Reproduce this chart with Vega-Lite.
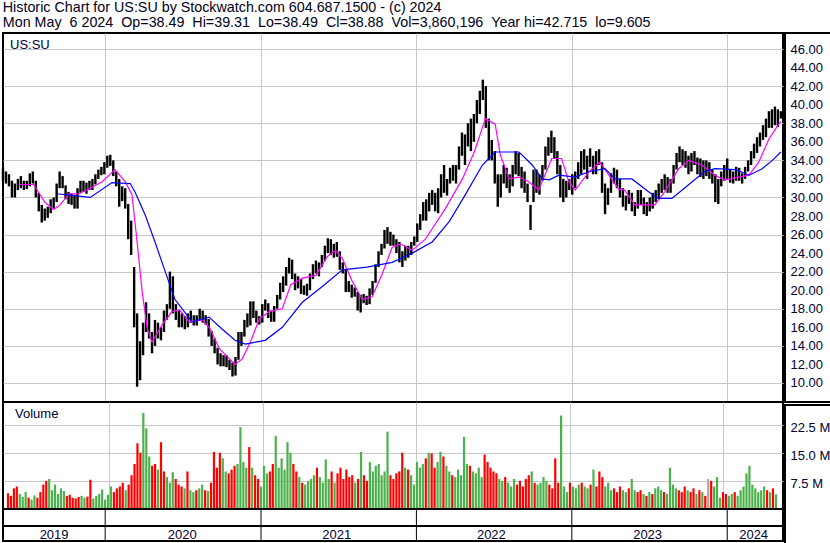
{
"$schema": "https://vega.github.io/schema/vega-lite/v6.json",
"background": "white",
"padding": {"left": 0, "right": 0, "top": 1, "bottom": 0},
"title": {"text": ["Historic Chart for US:SU by Stockwatch.com 604.687.1500 - (c) 2024", "Mon May \u00a06 2024 \u00a0Op=38.49 \u00a0Hi=39.31 \u00a0Lo=38.49 \u00a0Cl=38.88 \u00a0Vol=3,860,196 \u00a0Year hi=42.715 \u00a0lo=9.605"], "anchor": "start", "frame": "bounds", "font": "Liberation Sans", "fontSize": 14.3, "fontWeight": "normal", "color": "#000020", "lineHeight": 14.5, "offset": 2, "dx": 2},
"datasets": {
"px": [
{"d":"2019-05-06","h":33.2,"l":31.8,"c":32.2,"v":4.2,"u":"r"},
{"d":"2019-05-13","h":32.8,"l":31.5,"c":32.0,"v":3.5,"u":"r"},
{"d":"2019-05-20","h":32.5,"l":31.2,"c":31.5,"v":5.5,"u":"r"},
{"d":"2019-05-27","h":31.8,"l":30.0,"c":30.5,"v":6.0,"u":"r"},
{"d":"2019-06-03","h":31.5,"l":30.0,"c":31.2,"v":4.0,"u":"g"},
{"d":"2019-06-10","h":32.0,"l":30.8,"c":31.5,"v":3.2,"u":"g"},
{"d":"2019-06-17","h":32.3,"l":31.0,"c":31.8,"v":4.5,"u":"g"},
{"d":"2019-06-24","h":31.8,"l":30.8,"c":31.2,"v":3.0,"u":"r"},
{"d":"2019-07-01","h":31.8,"l":30.9,"c":31.5,"v":2.5,"u":"g"},
{"d":"2019-07-08","h":32.6,"l":31.2,"c":32.2,"v":3.6,"u":"g"},
{"d":"2019-07-15","h":32.8,"l":31.5,"c":31.8,"v":3.0,"u":"r"},
{"d":"2019-07-22","h":31.8,"l":30.0,"c":30.3,"v":4.5,"u":"r"},
{"d":"2019-07-29","h":30.5,"l":28.5,"c":29.0,"v":6.5,"u":"r"},
{"d":"2019-08-05","h":29.2,"l":27.3,"c":28.0,"v":7.5,"u":"r"},
{"d":"2019-08-12","h":28.8,"l":27.5,"c":28.2,"v":8.0,"u":"g"},
{"d":"2019-08-19","h":29.0,"l":27.8,"c":28.5,"v":5.0,"u":"g"},
{"d":"2019-08-26","h":29.8,"l":28.3,"c":29.5,"v":6.5,"u":"g"},
{"d":"2019-09-02","h":30.0,"l":28.8,"c":29.8,"v":4.0,"u":"g"},
{"d":"2019-09-09","h":31.5,"l":29.5,"c":31.2,"v":5.5,"u":"g"},
{"d":"2019-09-16","h":32.8,"l":31.0,"c":32.0,"v":4.8,"u":"g"},
{"d":"2019-09-23","h":32.3,"l":31.0,"c":31.3,"v":3.5,"u":"r"},
{"d":"2019-09-30","h":31.3,"l":29.8,"c":30.2,"v":3.8,"u":"r"},
{"d":"2019-10-07","h":30.6,"l":29.3,"c":29.8,"v":3.0,"u":"r"},
{"d":"2019-10-14","h":30.4,"l":29.2,"c":29.6,"v":2.8,"u":"r"},
{"d":"2019-10-21","h":30.3,"l":28.8,"c":29.5,"v":3.2,"u":"r"},
{"d":"2019-10-28","h":31.0,"l":28.8,"c":30.6,"v":3.5,"u":"g"},
{"d":"2019-11-04","h":31.8,"l":30.5,"c":31.4,"v":3.0,"u":"g"},
{"d":"2019-11-11","h":31.8,"l":30.6,"c":31.0,"v":3.3,"u":"r"},
{"d":"2019-11-18","h":31.6,"l":30.4,"c":30.9,"v":7.8,"u":"r"},
{"d":"2019-11-25","h":31.8,"l":30.8,"c":31.5,"v":2.8,"u":"g"},
{"d":"2019-12-02","h":32.0,"l":30.8,"c":31.8,"v":3.5,"u":"g"},
{"d":"2019-12-09","h":32.5,"l":31.4,"c":32.2,"v":4.0,"u":"g"},
{"d":"2019-12-16","h":33.0,"l":32.0,"c":32.8,"v":5.2,"u":"g"},
{"d":"2019-12-23","h":33.3,"l":32.4,"c":33.0,"v":2.5,"u":"g"},
{"d":"2019-12-30","h":33.8,"l":32.5,"c":33.5,"v":3.8,"u":"g"},
{"d":"2020-01-06","h":34.5,"l":33.2,"c":34.0,"v":6.0,"u":"g"},
{"d":"2020-01-13","h":34.6,"l":33.4,"c":33.8,"v":4.5,"u":"r"},
{"d":"2020-01-20","h":34.0,"l":32.3,"c":32.6,"v":5.5,"u":"r"},
{"d":"2020-01-27","h":32.8,"l":31.2,"c":31.6,"v":6.0,"u":"r"},
{"d":"2020-02-03","h":32.0,"l":29.0,"c":29.8,"v":7.0,"u":"r"},
{"d":"2020-02-10","h":31.2,"l":29.6,"c":30.5,"v":5.0,"u":"g"},
{"d":"2020-02-17","h":31.0,"l":28.8,"c":29.2,"v":6.5,"u":"r"},
{"d":"2020-02-24","h":29.3,"l":25.5,"c":26.0,"v":9.0,"u":"r"},
{"d":"2020-03-02","h":27.5,"l":23.8,"c":24.2,"v":12.0,"u":"r"},
{"d":"2020-03-09","h":22.5,"l":16.0,"c":17.5,"v":17.5,"u":"r"},
{"d":"2020-03-16","h":17.5,"l":9.6,"c":11.5,"v":15.0,"u":"r"},
{"d":"2020-03-23","h":14.5,"l":10.3,"c":13.0,"v":25.6,"u":"g"},
{"d":"2020-03-30","h":16.5,"l":13.0,"c":15.8,"v":21.5,"u":"g"},
{"d":"2020-04-06","h":18.7,"l":15.5,"c":17.2,"v":14.0,"u":"g"},
{"d":"2020-04-13","h":17.5,"l":14.8,"c":15.2,"v":11.5,"u":"r"},
{"d":"2020-04-20","h":15.5,"l":13.2,"c":14.0,"v":12.0,"u":"r"},
{"d":"2020-04-27","h":16.8,"l":14.0,"c":16.3,"v":10.5,"u":"g"},
{"d":"2020-05-04","h":16.5,"l":14.8,"c":15.2,"v":17.8,"u":"r"},
{"d":"2020-05-11","h":16.0,"l":14.6,"c":15.0,"v":10.0,"u":"r"},
{"d":"2020-05-18","h":17.8,"l":15.5,"c":17.2,"v":8.5,"u":"g"},
{"d":"2020-05-25","h":18.5,"l":16.8,"c":18.0,"v":7.0,"u":"g"},
{"d":"2020-06-01","h":22.0,"l":18.0,"c":21.0,"v":9.8,"u":"g"},
{"d":"2020-06-08","h":21.5,"l":17.5,"c":18.0,"v":8.0,"u":"r"},
{"d":"2020-06-15","h":18.5,"l":16.8,"c":17.5,"v":6.5,"u":"r"},
{"d":"2020-06-22","h":17.8,"l":16.0,"c":16.3,"v":6.0,"u":"r"},
{"d":"2020-06-29","h":17.5,"l":16.0,"c":17.0,"v":5.5,"u":"g"},
{"d":"2020-07-06","h":17.2,"l":15.8,"c":16.2,"v":10.0,"u":"r"},
{"d":"2020-07-13","h":17.5,"l":16.0,"c":17.0,"v":5.0,"u":"g"},
{"d":"2020-07-20","h":17.8,"l":16.5,"c":17.2,"v":4.5,"u":"g"},
{"d":"2020-07-27","h":17.3,"l":16.2,"c":16.6,"v":5.0,"u":"r"},
{"d":"2020-08-03","h":17.3,"l":16.2,"c":17.0,"v":5.5,"u":"g"},
{"d":"2020-08-10","h":18.0,"l":16.8,"c":17.6,"v":6.5,"u":"g"},
{"d":"2020-08-17","h":17.8,"l":16.5,"c":16.8,"v":5.0,"u":"r"},
{"d":"2020-08-24","h":17.3,"l":16.3,"c":17.0,"v":4.8,"u":"g"},
{"d":"2020-08-31","h":16.9,"l":15.0,"c":15.4,"v":7.0,"u":"r"},
{"d":"2020-09-07","h":15.6,"l":14.0,"c":14.3,"v":15.2,"u":"r"},
{"d":"2020-09-14","h":14.8,"l":13.2,"c":13.6,"v":11.0,"u":"r"},
{"d":"2020-09-21","h":13.8,"l":12.0,"c":12.3,"v":15.0,"u":"r"},
{"d":"2020-09-28","h":13.2,"l":11.8,"c":12.5,"v":13.5,"u":"g"},
{"d":"2020-10-05","h":13.0,"l":11.8,"c":12.7,"v":10.0,"u":"g"},
{"d":"2020-10-12","h":13.0,"l":11.7,"c":11.9,"v":9.5,"u":"r"},
{"d":"2020-10-19","h":12.5,"l":11.4,"c":11.8,"v":10.5,"u":"r"},
{"d":"2020-10-26","h":12.2,"l":10.7,"c":11.0,"v":11.5,"u":"r"},
{"d":"2020-11-02","h":12.8,"l":10.8,"c":12.5,"v":12.0,"u":"g"},
{"d":"2020-11-09","h":15.5,"l":12.5,"c":14.8,"v":21.8,"u":"g"},
{"d":"2020-11-16","h":15.5,"l":14.0,"c":15.0,"v":12.5,"u":"g"},
{"d":"2020-11-23","h":16.8,"l":15.0,"c":16.5,"v":11.0,"u":"g"},
{"d":"2020-11-30","h":17.5,"l":16.0,"c":16.2,"v":16.5,"u":"r"},
{"d":"2020-12-07","h":18.8,"l":16.2,"c":18.4,"v":11.0,"u":"g"},
{"d":"2020-12-14","h":18.8,"l":17.0,"c":17.5,"v":9.0,"u":"r"},
{"d":"2020-12-21","h":17.8,"l":16.5,"c":16.8,"v":8.0,"u":"r"},
{"d":"2020-12-28","h":17.2,"l":16.3,"c":16.9,"v":6.0,"u":"g"},
{"d":"2021-01-04","h":18.5,"l":16.5,"c":18.0,"v":11.5,"u":"g"},
{"d":"2021-01-11","h":19.0,"l":17.8,"c":18.3,"v":9.5,"u":"g"},
{"d":"2021-01-18","h":18.6,"l":17.0,"c":17.3,"v":10.0,"u":"r"},
{"d":"2021-01-25","h":17.8,"l":16.6,"c":17.0,"v":12.0,"u":"r"},
{"d":"2021-02-01","h":18.3,"l":16.6,"c":18.0,"v":19.5,"u":"g"},
{"d":"2021-02-08","h":19.5,"l":18.0,"c":19.2,"v":11.0,"u":"g"},
{"d":"2021-02-15","h":20.8,"l":19.0,"c":20.5,"v":13.5,"u":"g"},
{"d":"2021-02-22","h":21.5,"l":19.8,"c":21.0,"v":10.5,"u":"g"},
{"d":"2021-03-01","h":22.5,"l":20.5,"c":22.0,"v":17.8,"u":"g"},
{"d":"2021-03-08","h":23.5,"l":21.8,"c":22.8,"v":15.0,"u":"g"},
{"d":"2021-03-15","h":23.3,"l":21.2,"c":21.5,"v":12.0,"u":"r"},
{"d":"2021-03-22","h":21.8,"l":20.0,"c":20.6,"v":10.0,"u":"r"},
{"d":"2021-03-29","h":21.5,"l":20.2,"c":21.0,"v":8.5,"u":"g"},
{"d":"2021-04-05","h":21.2,"l":19.6,"c":20.0,"v":7.0,"u":"r"},
{"d":"2021-04-12","h":20.5,"l":19.5,"c":20.2,"v":6.5,"u":"g"},
{"d":"2021-04-19","h":20.7,"l":19.4,"c":20.3,"v":7.5,"u":"g"},
{"d":"2021-04-26","h":21.8,"l":20.0,"c":21.5,"v":8.0,"u":"g"},
{"d":"2021-05-03","h":22.8,"l":21.2,"c":22.5,"v":9.0,"u":"g"},
{"d":"2021-05-10","h":23.2,"l":21.8,"c":22.4,"v":11.0,"u":"r"},
{"d":"2021-05-17","h":23.0,"l":21.5,"c":22.8,"v":8.5,"u":"g"},
{"d":"2021-05-24","h":23.8,"l":22.5,"c":23.5,"v":7.0,"u":"g"},
{"d":"2021-05-31","h":24.8,"l":23.2,"c":24.5,"v":13.2,"u":"g"},
{"d":"2021-06-07","h":25.6,"l":24.0,"c":24.8,"v":8.0,"u":"g"},
{"d":"2021-06-14","h":25.5,"l":23.8,"c":24.2,"v":10.0,"u":"r"},
{"d":"2021-06-21","h":25.0,"l":23.5,"c":24.5,"v":7.0,"u":"g"},
{"d":"2021-06-28","h":25.2,"l":23.6,"c":24.0,"v":9.5,"u":"r"},
{"d":"2021-07-05","h":24.2,"l":22.2,"c":22.5,"v":11.0,"u":"r"},
{"d":"2021-07-12","h":23.0,"l":21.8,"c":22.2,"v":8.0,"u":"r"},
{"d":"2021-07-19","h":22.3,"l":19.8,"c":20.8,"v":10.5,"u":"r"},
{"d":"2021-07-26","h":21.0,"l":19.8,"c":20.5,"v":8.5,"u":"r"},
{"d":"2021-08-02","h":20.6,"l":19.2,"c":19.5,"v":9.0,"u":"r"},
{"d":"2021-08-09","h":20.3,"l":19.3,"c":19.8,"v":7.0,"u":"g"},
{"d":"2021-08-16","h":19.8,"l":17.8,"c":18.5,"v":8.0,"u":"r"},
{"d":"2021-08-23","h":19.5,"l":17.6,"c":19.2,"v":15.2,"u":"g"},
{"d":"2021-08-30","h":19.6,"l":18.6,"c":19.0,"v":9.0,"u":"r"},
{"d":"2021-09-06","h":19.4,"l":18.4,"c":18.7,"v":7.5,"u":"r"},
{"d":"2021-09-13","h":20.2,"l":18.5,"c":20.0,"v":12.5,"u":"g"},
{"d":"2021-09-20","h":21.0,"l":19.5,"c":20.8,"v":10.0,"u":"g"},
{"d":"2021-09-27","h":22.8,"l":20.8,"c":22.5,"v":11.5,"u":"g"},
{"d":"2021-10-04","h":24.2,"l":22.5,"c":24.0,"v":12.0,"u":"g"},
{"d":"2021-10-11","h":25.0,"l":23.8,"c":24.6,"v":9.0,"u":"g"},
{"d":"2021-10-18","h":26.5,"l":24.5,"c":26.0,"v":10.0,"u":"g"},
{"d":"2021-10-25","h":26.8,"l":25.0,"c":26.2,"v":20.6,"u":"g"},
{"d":"2021-11-01","h":26.3,"l":24.8,"c":25.5,"v":9.0,"u":"r"},
{"d":"2021-11-08","h":26.0,"l":24.8,"c":25.2,"v":8.0,"u":"r"},
{"d":"2021-11-15","h":25.5,"l":24.0,"c":24.3,"v":9.5,"u":"r"},
{"d":"2021-11-22","h":25.2,"l":23.0,"c":23.4,"v":10.0,"u":"r"},
{"d":"2021-11-29","h":24.2,"l":22.5,"c":23.2,"v":15.0,"u":"r"},
{"d":"2021-12-06","h":24.8,"l":23.2,"c":24.5,"v":11.0,"u":"g"},
{"d":"2021-12-13","h":24.8,"l":23.5,"c":24.0,"v":10.5,"u":"r"},
{"d":"2021-12-20","h":25.2,"l":23.8,"c":24.8,"v":9.0,"u":"g"},
{"d":"2021-12-27","h":25.8,"l":24.8,"c":25.3,"v":6.5,"u":"g"},
{"d":"2022-01-03","h":27.2,"l":25.2,"c":26.8,"v":12.5,"u":"g"},
{"d":"2022-01-10","h":28.2,"l":26.5,"c":27.8,"v":11.0,"u":"g"},
{"d":"2022-01-17","h":29.5,"l":27.5,"c":29.0,"v":12.0,"u":"g"},
{"d":"2022-01-24","h":29.8,"l":27.5,"c":28.6,"v":13.5,"u":"r"},
{"d":"2022-01-31","h":30.5,"l":28.5,"c":30.0,"v":15.0,"u":"g"},
{"d":"2022-02-07","h":30.8,"l":29.2,"c":29.6,"v":14.8,"u":"r"},
{"d":"2022-02-14","h":30.5,"l":28.5,"c":29.0,"v":11.0,"u":"r"},
{"d":"2022-02-21","h":31.0,"l":28.3,"c":30.5,"v":12.5,"u":"g"},
{"d":"2022-02-28","h":32.5,"l":30.0,"c":31.5,"v":15.2,"u":"g"},
{"d":"2022-03-07","h":33.5,"l":30.5,"c":31.0,"v":14.0,"u":"r"},
{"d":"2022-03-14","h":32.0,"l":30.2,"c":31.5,"v":11.5,"u":"g"},
{"d":"2022-03-21","h":33.2,"l":31.5,"c":33.0,"v":10.0,"u":"g"},
{"d":"2022-03-28","h":33.5,"l":31.8,"c":32.5,"v":9.0,"u":"r"},
{"d":"2022-04-04","h":33.5,"l":31.5,"c":33.2,"v":8.5,"u":"g"},
{"d":"2022-04-11","h":35.5,"l":33.0,"c":35.2,"v":10.5,"u":"g"},
{"d":"2022-04-18","h":37.0,"l":34.5,"c":35.5,"v":9.0,"u":"g"},
{"d":"2022-04-25","h":36.8,"l":33.5,"c":36.0,"v":19.2,"u":"g"},
{"d":"2022-05-02","h":38.0,"l":35.5,"c":37.5,"v":12.0,"u":"g"},
{"d":"2022-05-09","h":38.5,"l":35.0,"c":36.2,"v":11.5,"u":"r"},
{"d":"2022-05-16","h":39.0,"l":36.0,"c":38.5,"v":10.0,"u":"g"},
{"d":"2022-05-23","h":40.5,"l":38.0,"c":40.0,"v":9.5,"u":"g"},
{"d":"2022-05-30","h":41.5,"l":39.0,"c":41.0,"v":11.0,"u":"g"},
{"d":"2022-06-06","h":42.7,"l":40.5,"c":41.5,"v":8.5,"u":"g"},
{"d":"2022-06-13","h":42.0,"l":37.5,"c":38.0,"v":14.5,"u":"r"},
{"d":"2022-06-20","h":38.5,"l":34.0,"c":35.0,"v":12.5,"u":"r"},
{"d":"2022-06-27","h":36.2,"l":34.0,"c":34.8,"v":11.0,"u":"r"},
{"d":"2022-07-04","h":35.0,"l":31.5,"c":32.0,"v":10.0,"u":"r"},
{"d":"2022-07-11","h":32.5,"l":29.0,"c":30.0,"v":9.5,"u":"r"},
{"d":"2022-07-18","h":32.5,"l":30.0,"c":32.0,"v":8.0,"u":"g"},
{"d":"2022-07-25","h":33.5,"l":31.5,"c":33.0,"v":7.5,"u":"g"},
{"d":"2022-08-01","h":33.2,"l":31.0,"c":31.5,"v":8.5,"u":"r"},
{"d":"2022-08-08","h":32.5,"l":30.5,"c":31.8,"v":7.0,"u":"g"},
{"d":"2022-08-15","h":33.5,"l":31.2,"c":32.8,"v":6.0,"u":"g"},
{"d":"2022-08-22","h":35.0,"l":32.5,"c":34.5,"v":8.0,"u":"g"},
{"d":"2022-08-29","h":34.8,"l":32.3,"c":32.8,"v":6.5,"u":"r"},
{"d":"2022-09-05","h":33.3,"l":31.0,"c":31.5,"v":7.5,"u":"r"},
{"d":"2022-09-12","h":32.8,"l":30.5,"c":30.8,"v":6.0,"u":"r"},
{"d":"2022-09-19","h":31.5,"l":29.5,"c":29.8,"v":8.0,"u":"r"},
{"d":"2022-09-26","h":29.2,"l":26.5,"c":28.5,"v":9.0,"u":"r"},
{"d":"2022-10-03","h":33.0,"l":29.5,"c":32.6,"v":10.0,"u":"g"},
{"d":"2022-10-10","h":33.0,"l":30.5,"c":31.0,"v":7.0,"u":"r"},
{"d":"2022-10-17","h":32.5,"l":30.3,"c":32.0,"v":6.5,"u":"g"},
{"d":"2022-10-24","h":33.5,"l":31.8,"c":33.2,"v":7.0,"u":"g"},
{"d":"2022-10-31","h":35.5,"l":33.0,"c":35.0,"v":8.5,"u":"g"},
{"d":"2022-11-07","h":36.5,"l":34.5,"c":35.8,"v":7.5,"u":"g"},
{"d":"2022-11-14","h":37.2,"l":34.8,"c":35.5,"v":6.5,"u":"r"},
{"d":"2022-11-21","h":36.5,"l":34.2,"c":34.5,"v":5.5,"u":"r"},
{"d":"2022-11-28","h":35.0,"l":32.5,"c":33.0,"v":13.5,"u":"r"},
{"d":"2022-12-05","h":33.5,"l":30.0,"c":30.5,"v":7.0,"u":"r"},
{"d":"2022-12-12","h":32.0,"l":29.5,"c":31.0,"v":24.9,"u":"g"},
{"d":"2022-12-19","h":31.8,"l":30.0,"c":31.2,"v":6.0,"u":"g"},
{"d":"2022-12-26","h":32.0,"l":30.8,"c":31.6,"v":4.5,"u":"g"},
{"d":"2023-01-02","h":32.5,"l":30.3,"c":31.0,"v":7.0,"u":"r"},
{"d":"2023-01-09","h":32.8,"l":31.0,"c":32.5,"v":6.0,"u":"g"},
{"d":"2023-01-16","h":33.8,"l":32.0,"c":33.0,"v":5.5,"u":"g"},
{"d":"2023-01-23","h":35.0,"l":32.5,"c":34.6,"v":6.5,"u":"g"},
{"d":"2023-01-30","h":35.2,"l":33.0,"c":33.5,"v":7.0,"u":"r"},
{"d":"2023-02-06","h":34.5,"l":32.0,"c":34.0,"v":6.0,"u":"g"},
{"d":"2023-02-13","h":35.3,"l":33.3,"c":34.5,"v":5.5,"u":"g"},
{"d":"2023-02-20","h":34.5,"l":32.5,"c":33.0,"v":6.5,"u":"r"},
{"d":"2023-02-27","h":35.0,"l":32.5,"c":34.5,"v":10.5,"u":"g"},
{"d":"2023-03-06","h":35.2,"l":33.5,"c":33.8,"v":6.0,"u":"r"},
{"d":"2023-03-13","h":33.8,"l":30.5,"c":31.0,"v":10.0,"u":"r"},
{"d":"2023-03-20","h":31.5,"l":28.2,"c":29.5,"v":8.5,"u":"r"},
{"d":"2023-03-27","h":31.0,"l":29.2,"c":30.8,"v":6.0,"u":"g"},
{"d":"2023-04-03","h":32.6,"l":30.5,"c":32.0,"v":7.0,"u":"g"},
{"d":"2023-04-10","h":33.2,"l":31.5,"c":32.8,"v":5.0,"u":"g"},
{"d":"2023-04-17","h":33.0,"l":31.0,"c":31.5,"v":5.5,"u":"r"},
{"d":"2023-04-24","h":32.0,"l":30.0,"c":30.6,"v":4.5,"u":"r"},
{"d":"2023-05-01","h":31.0,"l":29.0,"c":29.5,"v":6.0,"u":"r"},
{"d":"2023-05-08","h":30.2,"l":28.6,"c":29.8,"v":5.0,"u":"g"},
{"d":"2023-05-15","h":30.8,"l":29.3,"c":30.0,"v":4.5,"u":"g"},
{"d":"2023-05-22","h":30.5,"l":28.5,"c":28.8,"v":5.5,"u":"r"},
{"d":"2023-05-29","h":29.5,"l":28.0,"c":29.2,"v":8.0,"u":"g"},
{"d":"2023-06-05","h":30.8,"l":28.8,"c":30.2,"v":5.0,"u":"g"},
{"d":"2023-06-12","h":30.8,"l":29.2,"c":29.6,"v":4.5,"u":"r"},
{"d":"2023-06-19","h":30.0,"l":28.2,"c":28.5,"v":5.0,"u":"r"},
{"d":"2023-06-26","h":29.5,"l":28.0,"c":29.3,"v":4.0,"u":"g"},
{"d":"2023-07-03","h":30.0,"l":28.5,"c":29.2,"v":3.5,"u":"r"},
{"d":"2023-07-10","h":30.5,"l":28.8,"c":30.2,"v":4.5,"u":"g"},
{"d":"2023-07-17","h":30.8,"l":29.5,"c":30.0,"v":4.0,"u":"r"},
{"d":"2023-07-24","h":31.5,"l":29.8,"c":31.2,"v":5.5,"u":"g"},
{"d":"2023-07-31","h":32.0,"l":30.5,"c":31.5,"v":6.0,"u":"g"},
{"d":"2023-08-07","h":32.5,"l":30.8,"c":32.0,"v":5.0,"u":"g"},
{"d":"2023-08-14","h":32.2,"l":30.5,"c":31.0,"v":4.5,"u":"r"},
{"d":"2023-08-21","h":32.0,"l":30.5,"c":31.8,"v":4.0,"u":"g"},
{"d":"2023-08-28","h":33.5,"l":31.5,"c":33.2,"v":11.0,"u":"g"},
{"d":"2023-09-04","h":34.8,"l":33.0,"c":34.5,"v":6.5,"u":"g"},
{"d":"2023-09-11","h":35.5,"l":33.8,"c":34.8,"v":5.5,"u":"g"},
{"d":"2023-09-18","h":35.2,"l":33.5,"c":34.2,"v":5.0,"u":"r"},
{"d":"2023-09-25","h":35.0,"l":33.2,"c":34.0,"v":4.5,"u":"r"},
{"d":"2023-10-02","h":34.5,"l":32.5,"c":33.0,"v":6.0,"u":"r"},
{"d":"2023-10-09","h":34.8,"l":32.8,"c":34.2,"v":5.0,"u":"g"},
{"d":"2023-10-16","h":35.0,"l":33.5,"c":34.0,"v":4.5,"u":"r"},
{"d":"2023-10-23","h":34.3,"l":32.5,"c":33.0,"v":5.5,"u":"r"},
{"d":"2023-10-30","h":34.2,"l":32.2,"c":33.8,"v":4.0,"u":"g"},
{"d":"2023-11-06","h":34.0,"l":32.0,"c":32.5,"v":5.0,"u":"r"},
{"d":"2023-11-13","h":34.0,"l":32.3,"c":33.5,"v":4.5,"u":"g"},
{"d":"2023-11-20","h":33.8,"l":32.0,"c":32.4,"v":3.5,"u":"r"},
{"d":"2023-11-27","h":33.0,"l":31.5,"c":32.0,"v":8.0,"u":"n"},
{"d":"2023-12-04","h":32.5,"l":29.5,"c":30.5,"v":7.5,"u":"r"},
{"d":"2023-12-11","h":32.0,"l":29.3,"c":31.8,"v":6.0,"u":"g"},
{"d":"2023-12-18","h":32.8,"l":31.2,"c":32.3,"v":8.5,"u":"g"},
{"d":"2023-12-25","h":33.5,"l":31.8,"c":32.8,"v":3.0,"u":"g"},
{"d":"2024-01-01","h":34.2,"l":32.0,"c":32.5,"v":4.5,"u":"r"},
{"d":"2024-01-08","h":33.0,"l":31.6,"c":32.0,"v":4.0,"u":"r"},
{"d":"2024-01-15","h":32.8,"l":31.5,"c":32.2,"v":3.5,"u":"g"},
{"d":"2024-01-22","h":33.3,"l":31.8,"c":32.4,"v":4.0,"u":"g"},
{"d":"2024-01-29","h":33.2,"l":31.8,"c":32.0,"v":4.5,"u":"r"},
{"d":"2024-02-05","h":32.6,"l":31.5,"c":32.3,"v":3.5,"u":"g"},
{"d":"2024-02-12","h":33.3,"l":32.0,"c":33.0,"v":5.0,"u":"g"},
{"d":"2024-02-19","h":34.0,"l":32.8,"c":33.8,"v":6.0,"u":"g"},
{"d":"2024-02-26","h":35.0,"l":33.5,"c":34.5,"v":9.5,"u":"g"},
{"d":"2024-03-04","h":35.8,"l":34.2,"c":35.5,"v":11.5,"u":"g"},
{"d":"2024-03-11","h":36.5,"l":34.8,"c":36.0,"v":6.5,"u":"g"},
{"d":"2024-03-18","h":37.0,"l":35.5,"c":36.8,"v":5.5,"u":"g"},
{"d":"2024-03-25","h":37.8,"l":36.2,"c":37.2,"v":4.5,"u":"g"},
{"d":"2024-04-01","h":38.5,"l":36.5,"c":38.2,"v":5.0,"u":"g"},
{"d":"2024-04-08","h":39.3,"l":37.5,"c":38.5,"v":6.0,"u":"g"},
{"d":"2024-04-15","h":39.5,"l":37.5,"c":38.0,"v":5.0,"u":"r"},
{"d":"2024-04-22","h":39.8,"l":37.8,"c":39.2,"v":4.5,"u":"g"},
{"d":"2024-04-29","h":39.5,"l":37.6,"c":38.3,"v":5.5,"u":"r"},
{"d":"2024-05-06","h":39.3,"l":38.5,"c":38.9,"v":3.9,"u":"g"}
],
"fast": [
{"d":"2019-06-14","v":31.4},{"d":"2019-07-17","v":31.4},{"d":"2019-08-12","v":29.5},{"d":"2019-09-02","v":28.7},{"d":"2019-09-17","v":29.2},{"d":"2019-10-08","v":30.4},{"d":"2019-11-01","v":30.4},{"d":"2019-12-01","v":31.1},{"d":"2019-12-25","v":31.7},{"d":"2020-01-24","v":33.0},{"d":"2020-02-17","v":31.7},{"d":"2020-03-04","v":30.3},{"d":"2020-03-16","v":25.2},{"d":"2020-03-28","v":19.8},{"d":"2020-04-09","v":15.8},{"d":"2020-04-20","v":14.4},{"d":"2020-05-14","v":16.3},{"d":"2020-06-06","v":17.7},{"d":"2020-06-23","v":17.9},{"d":"2020-07-16","v":16.6},{"d":"2020-08-16","v":16.8},{"d":"2020-09-04","v":15.8},{"d":"2020-09-25","v":13.7},{"d":"2020-11-01","v":12.0},{"d":"2020-11-18","v":12.6},{"d":"2020-12-07","v":14.4},{"d":"2020-12-28","v":16.9},{"d":"2021-01-20","v":17.7},{"d":"2021-02-20","v":18.0},{"d":"2021-03-12","v":20.6},{"d":"2021-04-08","v":21.3},{"d":"2021-05-10","v":21.6},{"d":"2021-06-05","v":23.6},{"d":"2021-06-25","v":24.3},{"d":"2021-07-11","v":23.4},{"d":"2021-08-03","v":21.0},{"d":"2021-08-27","v":19.0},{"d":"2021-09-19","v":19.3},{"d":"2021-10-13","v":21.8},{"d":"2021-11-05","v":24.6},{"d":"2021-11-25","v":25.0},{"d":"2021-12-22","v":24.3},{"d":"2022-01-22","v":25.5},{"d":"2022-03-10","v":28.8},{"d":"2022-04-19","v":32.0},{"d":"2022-05-17","v":34.9},{"d":"2022-06-12","v":38.5},{"d":"2022-07-05","v":37.9},{"d":"2022-07-17","v":34.6},{"d":"2022-08-07","v":32.0},{"d":"2022-08-30","v":32.2},{"d":"2022-09-22","v":31.7},{"d":"2022-10-15","v":30.8},{"d":"2022-11-15","v":34.2},{"d":"2022-12-08","v":34.2},{"d":"2022-12-25","v":31.7},{"d":"2023-01-09","v":30.8},{"d":"2023-02-11","v":32.8},{"d":"2023-03-08","v":33.8},{"d":"2023-03-29","v":32.4},{"d":"2023-04-21","v":30.9},{"d":"2023-05-05","v":30.8},{"d":"2023-05-29","v":29.2},{"d":"2023-07-15","v":29.2},{"d":"2023-08-07","v":30.6},{"d":"2023-09-09","v":33.1},{"d":"2023-10-03","v":34.0},{"d":"2023-11-02","v":33.5},{"d":"2023-12-03","v":32.4},{"d":"2023-12-26","v":31.9},{"d":"2024-01-28","v":32.2},{"d":"2024-02-21","v":32.4},{"d":"2024-03-15","v":33.8},{"d":"2024-04-08","v":36.3},{"d":"2024-05-01","v":37.9},{"d":"2024-05-06","v":38.2}
],
"slow": [
{"d":"2019-09-10","v":30.4},{"d":"2019-11-27","v":30.0},{"d":"2020-01-17","v":31.6},{"d":"2020-02-29","v":31.5},{"d":"2020-03-11","v":30.6},{"d":"2020-04-04","v":28.1},{"d":"2020-04-27","v":25.2},{"d":"2020-05-21","v":22.0},{"d":"2020-06-13","v":19.0},{"d":"2020-06-30","v":18.0},{"d":"2020-07-23","v":16.6},{"d":"2020-09-01","v":17.1},{"d":"2020-10-02","v":15.8},{"d":"2020-11-01","v":14.6},{"d":"2020-11-25","v":14.2},{"d":"2021-01-11","v":14.6},{"d":"2021-02-20","v":16.0},{"d":"2021-04-08","v":18.7},{"d":"2021-05-25","v":20.4},{"d":"2021-07-11","v":22.2},{"d":"2021-09-07","v":22.5},{"d":"2021-11-05","v":23.0},{"d":"2021-12-22","v":24.0},{"d":"2022-02-07","v":25.2},{"d":"2022-03-19","v":27.4},{"d":"2022-04-26","v":30.3},{"d":"2022-06-05","v":33.5},{"d":"2022-07-05","v":34.9},{"d":"2022-08-30","v":34.9},{"d":"2022-09-30","v":33.5},{"d":"2022-10-23","v":32.0},{"d":"2022-11-09","v":31.9},{"d":"2022-12-02","v":32.4},{"d":"2023-01-09","v":32.2},{"d":"2023-02-11","v":32.8},{"d":"2023-03-20","v":33.1},{"d":"2023-04-13","v":32.0},{"d":"2023-05-22","v":32.0},{"d":"2023-07-01","v":30.6},{"d":"2023-07-24","v":29.9},{"d":"2023-08-24","v":29.9},{"d":"2023-10-03","v":31.4},{"d":"2023-11-09","v":32.8},{"d":"2023-12-03","v":33.1},{"d":"2024-01-20","v":33.0},{"d":"2024-02-22","v":32.4},{"d":"2024-03-23","v":33.1},{"d":"2024-04-16","v":34.0},{"d":"2024-05-06","v":34.9}
],
"yb": [{"d":"2020-01-01"},{"d":"2021-01-01"},{"d":"2022-01-01"},{"d":"2023-01-01"},{"d":"2024-01-01"}],
"yl": [{"d":"2019-09-03","t":"2019"},{"d":"2020-06-30","t":"2020"},{"d":"2021-06-28","t":"2021"},{"d":"2022-06-26","t":"2022"},{"d":"2023-06-28","t":"2023"},{"d":"2024-03-03","t":"2024"}]
},
"hconcat": [
{
"vconcat": [
{
"width": 780, "height": 369,
"layer": [
{"data": {"name": "px"}, "mark": {"type": "rule", "color": "black", "strokeWidth": 2.4},
"encoding": {
"x": {"field": "d", "type": "temporal", "scale": {"type": "utc", "domain": [1557100800000, 1715385600000]}, "axis": {"title": null, "grid": true, "labels": false, "ticks": false, "domain": false, "values": [1577836800000, 1609459200000, 1640995200000, 1672531200000, 1704067200000]}},
"y": {"field": "l", "type": "quantitative", "scale": {"domain": [7.95, 47.73], "nice": false, "zero": false}, "axis": {"title": null, "values": [10,12,14,16,18,20,22,24,26,28,30,32,34,36,38,40,42,44,46], "labels": false, "ticks": false, "domain": false, "grid": true}},
"y2": {"field": "h"}
}},
{"data": {"name": "fast"}, "mark": {"type": "line", "color": "#ff00ff", "strokeWidth": 1.2},
"encoding": {"x": {"field": "d", "type": "temporal", "axis": {"title": null}}, "y": {"field": "v", "type": "quantitative", "axis": {"title": null}}}},
{"data": {"name": "slow"}, "mark": {"type": "line", "color": "#0000ff", "strokeWidth": 1.2},
"encoding": {"x": {"field": "d", "type": "temporal", "axis": {"title": null}}, "y": {"field": "v", "type": "quantitative", "axis": {"title": null}}}},
{"data": {"values": [{"t": "US:SU"}]}, "mark": {"type": "text", "align": "left", "baseline": "alphabetic", "dx": 7, "dy": 16, "font": "Liberation Sans", "fontSize": 13, "color": "#000033"},
"encoding": {"x": {"datum": 1557100800000, "type": "temporal", "axis": {"title": null}}, "y": {"datum": 47.73, "type": "quantitative", "axis": {"title": null}}, "text": {"field": "t"}}}
]
},
{
"width": 780, "height": 107,
"layer": [
{"data": {"name": "px"},
"mark": {"type": "bar", "size": 2.2},
"encoding": {
"x": {"field": "d", "type": "temporal", "scale": {"type": "utc", "domain": [1557100800000, 1715385600000]}, "axis": {"title": null, "grid": true, "labels": false, "ticks": false, "domain": false, "values": [1577836800000, 1609459200000, 1640995200000, 1672531200000, 1704067200000]}},
"y": {"field": "v", "type": "quantitative", "scale": {"domain": [0, 28.5], "nice": false}, "axis": {"title": null, "values": [7.5, 15, 22.5], "labels": false, "ticks": false, "domain": false, "grid": true}},
"color": {"field": "u", "type": "nominal", "scale": {"domain": ["g", "r", "n"], "range": ["#4cb04c", "#ff0000", "#a8a8a8"]}, "legend": null}
}},
{"data": {"values": [{"t": "Volume"}]}, "mark": {"type": "text", "align": "left", "baseline": "alphabetic", "dx": 7, "dy": 16, "font": "Liberation Sans", "fontSize": 13, "color": "#000033"},
"encoding": {"x": {"datum": 1557100800000, "type": "temporal", "axis": {"title": null}}, "y": {"datum": 28.5, "type": "quantitative", "axis": {"title": null}}, "text": {"field": "t"}}}
]
},
{
"width": 780, "height": 17,
"data": {"name": "yb"},
"mark": {"type": "rule", "color": "black", "strokeWidth": 1},
"encoding": {"x": {"field": "d", "type": "temporal", "scale": {"type": "utc", "domain": [1557100800000, 1715385600000]}, "axis": null}}
},
{
"width": 780, "height": 15,
"layer": [
{"data": {"name": "yb"}, "mark": {"type": "rule", "color": "black", "strokeWidth": 1},
"encoding": {"x": {"field": "d", "type": "temporal", "scale": {"type": "utc", "domain": [1557100800000, 1715385600000]}, "axis": null}}},
{"data": {"name": "yl"}, "mark": {"type": "text", "font": "Liberation Sans", "fontSize": 13, "color": "#000033", "baseline": "middle", "dy": 1},
"encoding": {"x": {"field": "d", "type": "temporal", "axis": null}, "text": {"field": "t"}}}
]
}
],
"spacing": 0, "bounds": "flush"
},
{
"vconcat": [
{
"width": 47, "height": 369,
"data": {"name": "px"},
"mark": {"type": "tick", "opacity": 0},
"encoding": {
"y": {"field": "l", "type": "quantitative", "scale": {"domain": [7.95, 47.73], "nice": false, "zero": false}, "axis": {"orient": "right", "offset": -47, "title": null, "values": [10,12,14,16,18,20,22,24,26,28,30,32,34,36,38,40,42,44,46], "format": ".2f", "ticks": false, "domain": false, "grid": false, "labelPadding": 5}}
}
},
{
"width": 47, "height": 139,
"data": {"name": "px"},
"mark": {"type": "tick", "opacity": 0},
"encoding": {
"y": {"field": "v", "type": "quantitative", "scale": {"domain": [0, 28.5], "range": [107, 0], "nice": false}, "axis": {"orient": "right", "offset": -47, "title": null, "values": [7.5, 15, 22.5], "labelExpr": "format(datum.value, '.1f') + ' M'", "ticks": false, "domain": false, "grid": false, "labelPadding": 5}}
}
}
],
"spacing": 3, "bounds": "flush"
}
],
"spacing": -2,
"config": {
"font": "Liberation Sans",
"view": {"stroke": "black", "strokeWidth": 2},
"concat": {"spacing": 0},
"axis": {"labelFont": "Liberation Sans", "labelFontSize": 13, "labelColor": "#000033", "gridColor": "#c8c8c8", "gridWidth": 1, "gridOpacity": 1}
}
}
